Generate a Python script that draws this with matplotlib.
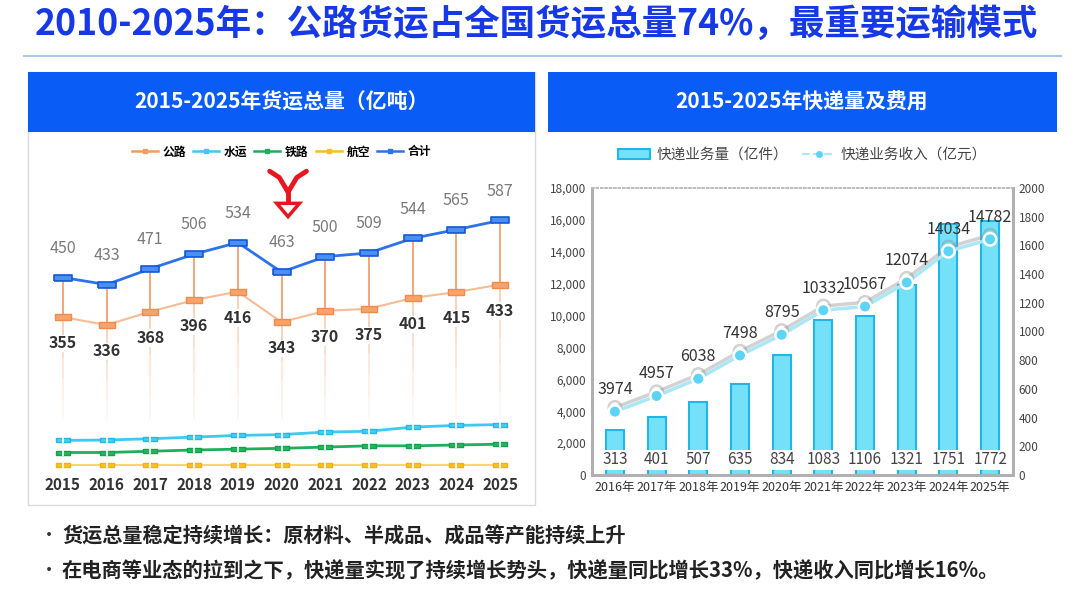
import matplotlib
matplotlib.use('Agg')
import matplotlib.pyplot as plt
import matplotlib.patheffects as pe
from matplotlib.patches import Rectangle, Polygon
from matplotlib.lines import Line2D
from matplotlib.ticker import FuncFormatter

plt.rcParams['font.family'] = ['Noto Sans CJK SC', 'DejaVu Sans']

# left chart: freight volume (100 million tons)
years = ['2015', '2016', '2017', '2018', '2019', '2020', '2021', '2022', '2023', '2024', '2025']
total = [450, 433, 471, 506, 534, 463, 500, 509, 544, 565, 587]
road = [355, 336, 368, 396, 416, 343, 370, 375, 401, 415, 433]
water = [59, 60, 63, 67, 71, 73, 79, 81, 91, 95, 97]
rail = [30, 30, 33, 36, 38, 40, 43, 46, 46, 48, 50]
air = [0.06, 0.07, 0.07, 0.07, 0.08, 0.07, 0.08, 0.09, 0.07, 0.09, 0.1]

# right chart: express parcels
ryears = ['2016年', '2017年', '2018年', '2019年', '2020年', '2021年', '2022年', '2023年', '2024年', '2025年']
parcels = [313, 401, 507, 635, 834, 1083, 1106, 1321, 1751, 1772]      # 亿件
revenue = [3974, 4957, 6038, 7498, 8795, 10332, 10567, 12074, 14034, 14782]  # 亿元

W, H = 1080, 604
fig = plt.figure(figsize=(10.8, 6.04), dpi=100)


def fx(px):
    return px / W


def fy(py):
    return 1 - py / H


# title
fig.text(fx(35), fy(24), '2010-2025年：公路货运占全国货运总量74%，最重要运输模式',
         fontsize=25.6, fontweight='bold', color='#1638E6', va='center', ha='left')
fig.add_artist(Line2D([fx(24), fx(1061)], [fy(56), fy(56)], color='#A9C8EE', lw=1.5))

# panels
blue = '#0A5CF6'
fig.add_artist(Rectangle((fx(28), fy(505)), fx(507), 433 / H, facecolor='none',
                         edgecolor='#DADADA', lw=1))
fig.add_artist(Rectangle((fx(28), fy(132)), fx(507), 60 / H, facecolor=blue, edgecolor='none'))
fig.add_artist(Rectangle((fx(548), fy(132)), fx(509), 60 / H, facecolor=blue, edgecolor='none'))
fig.text(fx(281), fy(102), '2015-2025年货运总量（亿吨）', color='white', fontsize=15,
         fontweight='bold', ha='center', va='center')
fig.text(fx(802), fy(102), '2015-2025年快递量及费用', color='white', fontsize=15,
         fontweight='bold', ha='center', va='center')

# ---------------- left chart ----------------
ax = fig.add_axes([fx(41), fy(470), fx(481), 310 / H])
ax.set_xlim(-0.5, 10.5)
ax.set_ylim(-12, 732)
x = list(range(len(years)))

rect = [(-2.8, -1), (2.8, -1), (2.8, 1), (-2.8, 1), (-2.8, -1)]

# drop lines
ax.vlines(x, road, total, color='#F0A070', lw=1.3, zorder=1)
for k, a in enumerate([0.55, 0.4, 0.28, 0.18, 0.1]):
    lo = [r - (r - 110) * (k + 1) / 5 for r in road]
    hi = [r - (r - 110) * k / 5 for r in road]
    ax.vlines(x, lo, hi, color='#F0A070', lw=1.2, alpha=a, zorder=1)

ax.plot(x, air, color='#F8D56E', lw=1.5, marker=rect, ms=10, mfc='#F7C12A', mec='#F2B400', zorder=3)
ax.plot(x, rail, color='#1FAF5C', lw=2, marker=rect, ms=10, mfc='#22B85E', mec='#14A04E', zorder=3)
ax.plot(x, water, color='#3CC9F2', lw=2, marker=rect, ms=10, mfc='#45CDF4', mec='#22B9EA', zorder=3)
for s in (air, rail, water):
    ax.plot(x, s, ls='none', marker='|', ms=4, mec='white', mew=1.2, zorder=4)
ax.plot(x, road, color='#F6BC94', lw=1.5, marker=rect, ms=12, mfc='#F7A46C', mec='#F08B4A', zorder=3)
ax.plot(x, total, color='#2D72E6', lw=2, marker=rect, ms=12.5, mfc='#4A90F2', mec='#1557D8',
        mew=1.2, zorder=5)

for i in x:
    ax.annotate(str(total[i]), (i, total[i]), xytext=(0, 21), textcoords='offset points',
                ha='center', va='center', fontsize=11.5, color='#7A7A7A')
    ax.annotate(str(road[i]), (i, road[i]), xytext=(0, -19), textcoords='offset points',
                ha='center', va='center', fontsize=11.5, fontweight='bold', color='#333333',
                bbox=dict(facecolor='white', edgecolor='none', pad=0.5))

# red arrow over 2020
c = 5.15
ax.plot([c - 0.42, c - 0.2, c], [705, 690, 655], color='#E8161E', lw=3.5, solid_capstyle='round', zorder=6)
ax.plot([c + 0.42, c + 0.2, c], [705, 690, 655], color='#E8161E', lw=3.5, solid_capstyle='round', zorder=6)
ax.plot([c, c], [655, 628], color='#E8161E', lw=3.5, zorder=6)
ax.add_patch(Polygon([(c - 0.26, 628), (c + 0.26, 628), (c, 596)], closed=True,
                     facecolor='white', edgecolor='#E8161E', lw=2.5, zorder=6))

ax.set_xticks(x)
ax.set_xticklabels(years, fontsize=11, fontweight='bold', color='#333333')
ax.tick_params(axis='x', length=0, pad=5)
ax.set_yticks([])
for sp in ax.spines.values():
    sp.set_visible(False)

lh = [Line2D([], [], color=cc, lw=1.8, marker='s', ms=3, mfc=cc, mec=cc)
      for cc in ['#F39A5E', '#3CC9F2', '#1FAF5C', '#F5C020', '#2D72E6']]
ax.legend(lh, ['公路', '水运', '铁路', '航空', '合计'], loc='center', bbox_to_anchor=(0.5, (470 - 152) / 310),
          ncol=5, frameon=False, handlelength=2.2, handletextpad=0.4, columnspacing=0.6,
          prop={'weight': 'bold', 'size': 8.5})

# ---------------- right chart ----------------
bx = fig.add_axes([fx(592), fy(475), fx(421), 287 / H])
bx2 = bx.twinx()
bx.set_zorder(bx2.get_zorder() + 1)
bx.patch.set_visible(False)
xr = list(range(len(ryears)))

bx2.bar(xr, parcels, width=0.43, color='#74E1F8', edgecolor='#1FB6E8', lw=1.5)
for i in xr:
    bx2.text(i, 106, str(parcels[i]), ha='center', va='center', fontsize=11, color='#444444',
             bbox=dict(facecolor='white', edgecolor='none', pad=1.2))

bx.plot(xr, revenue, color='#A8E8F7', lw=2.5, marker='o', ms=9, mfc='#5CD4F3', mec='white', mew=1.8,
        path_effects=[pe.SimpleLineShadow(offset=(0, 3), shadow_color='#909090', alpha=0.4),
                      pe.Normal()])
for i in xr:
    bx.annotate(str(revenue[i]), (i, revenue[i]), xytext=(0, 16), textcoords='offset points',
                ha='center', va='center', fontsize=11.5, color='#333333')

bx.set_xlim(-0.55, 9.55)
bx.set_ylim(0, 18000)
bx2.set_ylim(0, 2000)
bx.set_yticks(range(0, 18001, 2000))
bx.yaxis.set_major_formatter(FuncFormatter(lambda v, p: f'{int(v):,}'))
bx2.set_yticks(range(0, 2001, 200))
bx.set_xticks(xr)
bx.set_xticklabels(ryears)
bx.tick_params(axis='y', length=0, labelsize=8.5, labelcolor='#444444', pad=4)
bx.tick_params(axis='x', length=0, labelsize=9, labelcolor='#333333', pad=4)
bx2.tick_params(axis='y', length=0, labelsize=8.5, labelcolor='#444444', pad=4)
for a in (bx, bx2):
    for name in ('left', 'right', 'bottom'):
        a.spines[name].set_color('#B0B0B0')
        a.spines[name].set_linewidth(2)
    a.spines['top'].set_color('#BBBBBB')
    a.spines['top'].set_linestyle(':')
    a.spines['top'].set_linewidth(1.2)

rh = [Rectangle((0, 0), 1, 1, facecolor='#74E1F8', edgecolor='#1FB6E8', lw=1.5),
      Line2D([], [], color='#A8E8F7', lw=1.5, ls='--', marker='o', ms=4, mfc='#5CD4F3', mec='#5CD4F3')]
bx.legend(rh, ['快递业务量（亿件）', '快递业务收入（亿元）'], loc='center',
          bbox_to_anchor=(0.5, (475 - 155) / 287), ncol=2, frameon=False, fontsize=10.5,
          handlelength=2.2, handletextpad=0.4, columnspacing=1.0, labelcolor='#444444')

# bullet text
fig.text(fx(40), fy(536), '•', fontsize=13, color='#333333', va='center')
fig.text(fx(62), fy(536), '货运总量稳定持续增长：原材料、半成品、成品等产能持续上升',
         fontsize=14.5, fontweight='bold', color='#222222', va='center')
fig.text(fx(40), fy(571), '•', fontsize=13, color='#333333', va='center')
fig.text(fx(62), fy(571), '在电商等业态的拉到之下，快递量实现了持续增长势头，快递量同比增长33%，快递收入同比增长16%。',
         fontsize=14.6, fontweight='bold', color='#222222', va='center')

fig.savefig('out.png', dpi=100)
